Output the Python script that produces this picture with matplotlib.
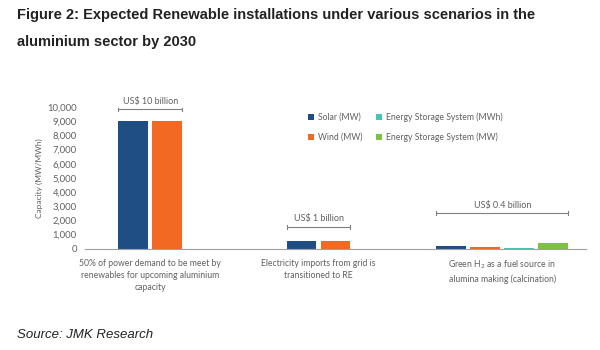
import matplotlib.pyplot as plt
import numpy as np

plt.rcParams['font.family'] = ['Lato', 'DejaVu Sans']

scenarios = ["50% of power demand to be meet by\nrenewables for upcoming aluminium\ncapacity",
             "Electricity imports from grid is\ntransitioned to RE",
             "Green H$_2$ as a fuel source in\nalumina making (calcination)"]
costs = ["US$ 10 billion", "US$ 1 billion", "US$ 0.4 billion"]
series = ["Solar (MW)", "Wind (MW)", "Energy Storage System (MWh)", "Energy Storage System (MW)"]
solar = [9000, 550, 200]
wind = [9000, 550, 150]
ess_mwh = [None, None, 90]
ess_mw = [None, None, 420]
colors = ["#1f4e85", "#f26a21", "#48c6b4", "#7dc242"]

grey = "#606060"
fig = plt.figure(figsize=(6, 3.5), dpi=100)
ax = fig.add_axes([0.142, 0.289, 0.835, 0.405])

group_start = [0, 4.95, 9.35]
w = 0.88
all_vals = [solar, wind, ess_mwh, ess_mw]
for g in range(3):
    k = 0
    for s, vals in enumerate(all_vals):
        if vals[g] is None:
            continue
        ax.bar(group_start[g] + k, vals[g], width=w, color=colors[s])
        k += 1
    left = group_start[g] - w / 2
    right = group_start[g] + k - 1 + w / 2
    top = max(v[g] for v in all_vals if v[g] is not None)
    yb = top + [850, 1000, 2100][g]
    ax.plot([left, right], [yb, yb], color="#808080", lw=0.8, clip_on=False)
    ax.plot([left, left], [yb - 120, yb + 120], color="#808080", lw=0.8, clip_on=False)
    ax.plot([right, right], [yb - 120, yb + 120], color="#808080", lw=0.8, clip_on=False)
    ax.text((left + right) / 2, yb + 250, costs[g], ha="center", va="bottom",
            fontsize=6.5, color=grey)
    ax.text((left + right) / 2, -700, scenarios[g], ha="center", va="top",
            fontsize=6.2, color=grey, linespacing=1.45)

for s in range(4):
    ax.bar(0, 0, color=colors[s], label=series[s])
ax.legend(ncol=2, loc="upper left", bbox_to_anchor=(0.43, 1.02), frameon=False,
          fontsize=6.2, labelcolor=grey, handlelength=0.7, handleheight=0.7,
          columnspacing=1.6, handletextpad=0.4, labelspacing=1.3)

ax.set_xlim(-1.41, 13.32)
ax.set_ylim(0, 10000)
ax.set_yticks(np.arange(0, 10001, 1000))
ax.set_yticklabels([f"{v:,}" for v in range(0, 10001, 1000)])
ax.set_xticks([])
ax.tick_params(axis="y", length=0, labelsize=6.8, labelcolor=grey, pad=6)
for sp in ["top", "right", "left"]:
    ax.spines[sp].set_visible(False)
ax.spines["bottom"].set_color("#a0a0a0")
ax.set_ylabel("Capacity (MW/MWh)", fontsize=6, color=grey, labelpad=3)

fig.text(0.028, 0.945, "Figure 2: Expected Renewable installations under various scenarios in the",
         fontsize=10.5, fontweight="bold", family="Liberation Sans", color="#222222")
fig.text(0.028, 0.868, "aluminium sector by 2030",
         fontsize=10.5, fontweight="bold", family="Liberation Sans", color="#222222")
fig.text(0.028, 0.035, "Source: JMK Research", fontsize=9.5, style="italic",
         family="Liberation Sans", color="#222222")

fig.savefig("out.png", dpi=100)
